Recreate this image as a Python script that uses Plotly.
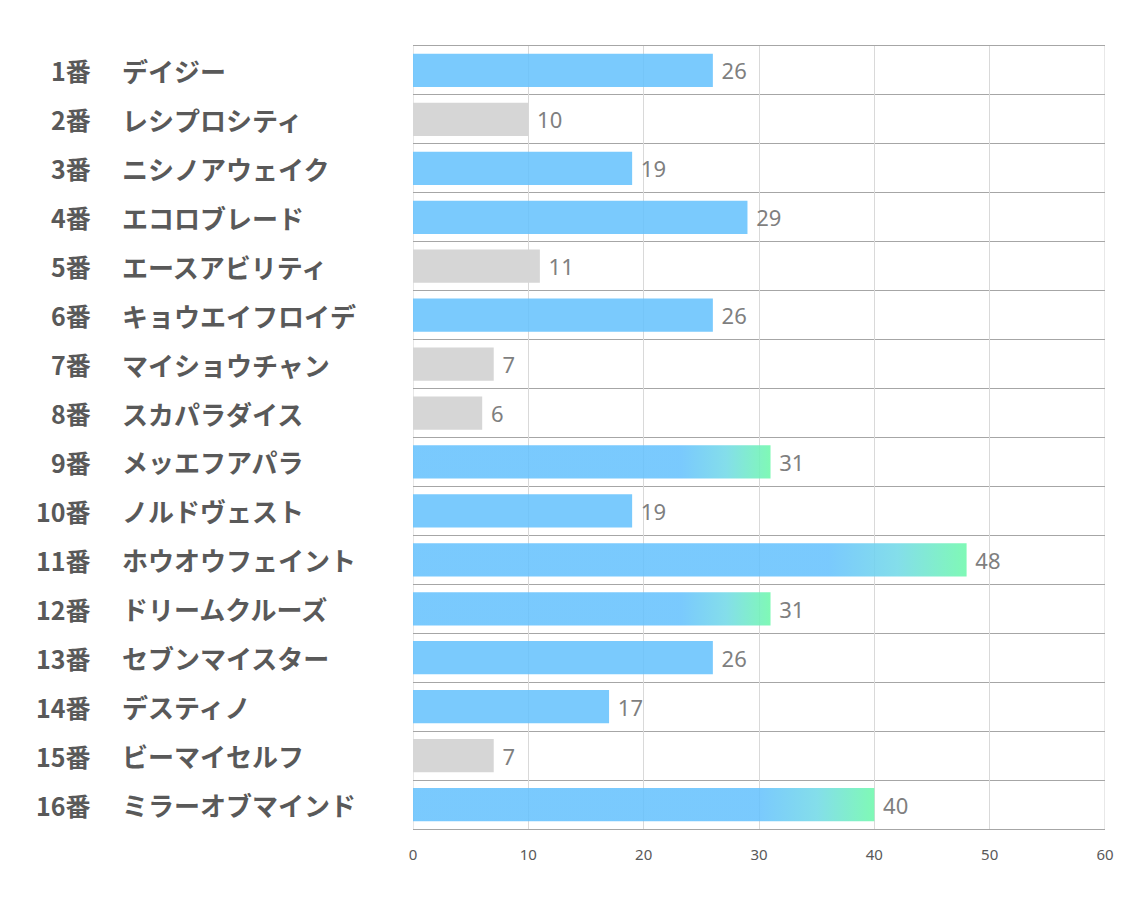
import plotly.graph_objects as go

numbers = ["1番", "2番", "3番", "4番", "5番", "6番", "7番", "8番",
           "9番", "10番", "11番", "12番", "13番", "14番", "15番", "16番"]
names = ["デイジー", "レシプロシティ", "ニシノアウェイク", "エコロブレード",
         "エースアビリティ", "キョウエイフロイデ", "マイショウチャン", "スカパラダイス",
         "メッエフアパラ", "ノルドヴェスト", "ホウオウフェイント", "ドリームクルーズ",
         "セブンマイスター", "デスティノ", "ビーマイセルフ", "ミラーオブマインド"]
values = [26, 10, 19, 29, 11, 26, 7, 6, 31, 19, 48, 31, 26, 17, 7, 40]
# kind: "blue", "gray", "grad"
kinds = ["blue", "gray", "blue", "blue", "gray", "blue", "gray", "gray",
         "grad", "blue", "grad", "grad", "blue", "blue", "gray", "grad"]
x_ticks = [0, 10, 20, 30, 40, 50, 60]

BLUE = "rgba(100,193,253,0.86)"
GREEN = "rgba(110,248,172,0.88)"
GRAY = "rgba(214,214,214,1)"
BAR_W = 0.68

pos = list(range(len(values)))
colors = []
for k in kinds:
    if k == "blue":
        colors.append(BLUE)
    elif k == "gray":
        colors.append(GRAY)
    else:
        colors.append("rgba(0,0,0,0)")

fig = go.Figure()
fig.add_trace(go.Bar(
    y=pos, x=values, orientation="h", width=BAR_W,
    marker=dict(color=colors, line=dict(width=0)),
    text=[" " + str(v) for v in values], textposition="outside",
    textfont=dict(family="Noto Sans", size=22, color="#7f7f7f"),
    cliponaxis=False, hoverinfo="skip", showlegend=False,
))

for i, (v, k) in enumerate(zip(values, kinds)):
    if k != "grad":
        continue
    y0, y1 = i - BAR_W / 2, i + BAR_W / 2
    fig.add_trace(go.Scatter(
        x=[0, v, v, 0, 0], y=[y0, y0, y1, y1, y0],
        mode="lines", line=dict(width=0), fill="toself",
        fillgradient=dict(type="horizontal", start=0.75 * v, stop=v,
                          colorscale=[[0, BLUE], [0.5, "rgba(118,218,232,0.9)"], [1, GREEN]]),
        hoverinfo="skip", showlegend=False,
    ))

annotations = []
for i, (n, nm) in enumerate(zip(numbers, names)):
    annotations.append(dict(
        x=0, xref="paper", y=i, yref="y", text=n, showarrow=False,
        xanchor="right", xshift=-320,
        font=dict(family="Noto Sans CJK JP", size=25, color="#595959", weight="bold"),
    ))
    annotations.append(dict(
        x=0, xref="paper", y=i, yref="y", text=nm, showarrow=False,
        xanchor="left", xshift=-293,
        font=dict(family="Noto Sans CJK JP", size=26, color="#595959", weight="bold"),
    ))

fig.update_layout(
    width=1134, height=907,
    margin=dict(l=413, r=29, t=46, b=78),
    paper_bgcolor="white", plot_bgcolor="white",
    annotations=annotations,
    xaxis=dict(
        range=[0, 60], tickvals=x_ticks, showgrid=True, gridcolor="#d9d9d9", gridwidth=1,
        zeroline=False, showline=True, mirror=True, linecolor="#a6a6a6", linewidth=1,
        ticks="outside", ticklen=12, tickcolor="rgba(0,0,0,0)",
        tickfont=dict(family="Noto Sans", size=15, color="#595959"),
        fixedrange=True,
    ),
    yaxis=dict(
        range=[15.5, -0.5], tickvals=pos, showticklabels=False, showgrid=False,
        zeroline=False, showline=False,
        minor=dict(tickvals=[i - 0.5 for i in range(len(values) + 1)],
                   showgrid=True, gridcolor="#a6a6a6", gridwidth=1),
        fixedrange=True,
    ),
)
fig.add_shape(type="line", xref="x", yref="paper", x0=0, x1=0, y0=0, y1=1,
              line=dict(color="#d0d0d0", width=1), layer="below")
fig.add_shape(type="line", xref="x", yref="paper", x0=60, x1=60, y0=0, y1=1,
              line=dict(color="#d0d0d0", width=1), layer="below")

fig.write_html("out.html")
